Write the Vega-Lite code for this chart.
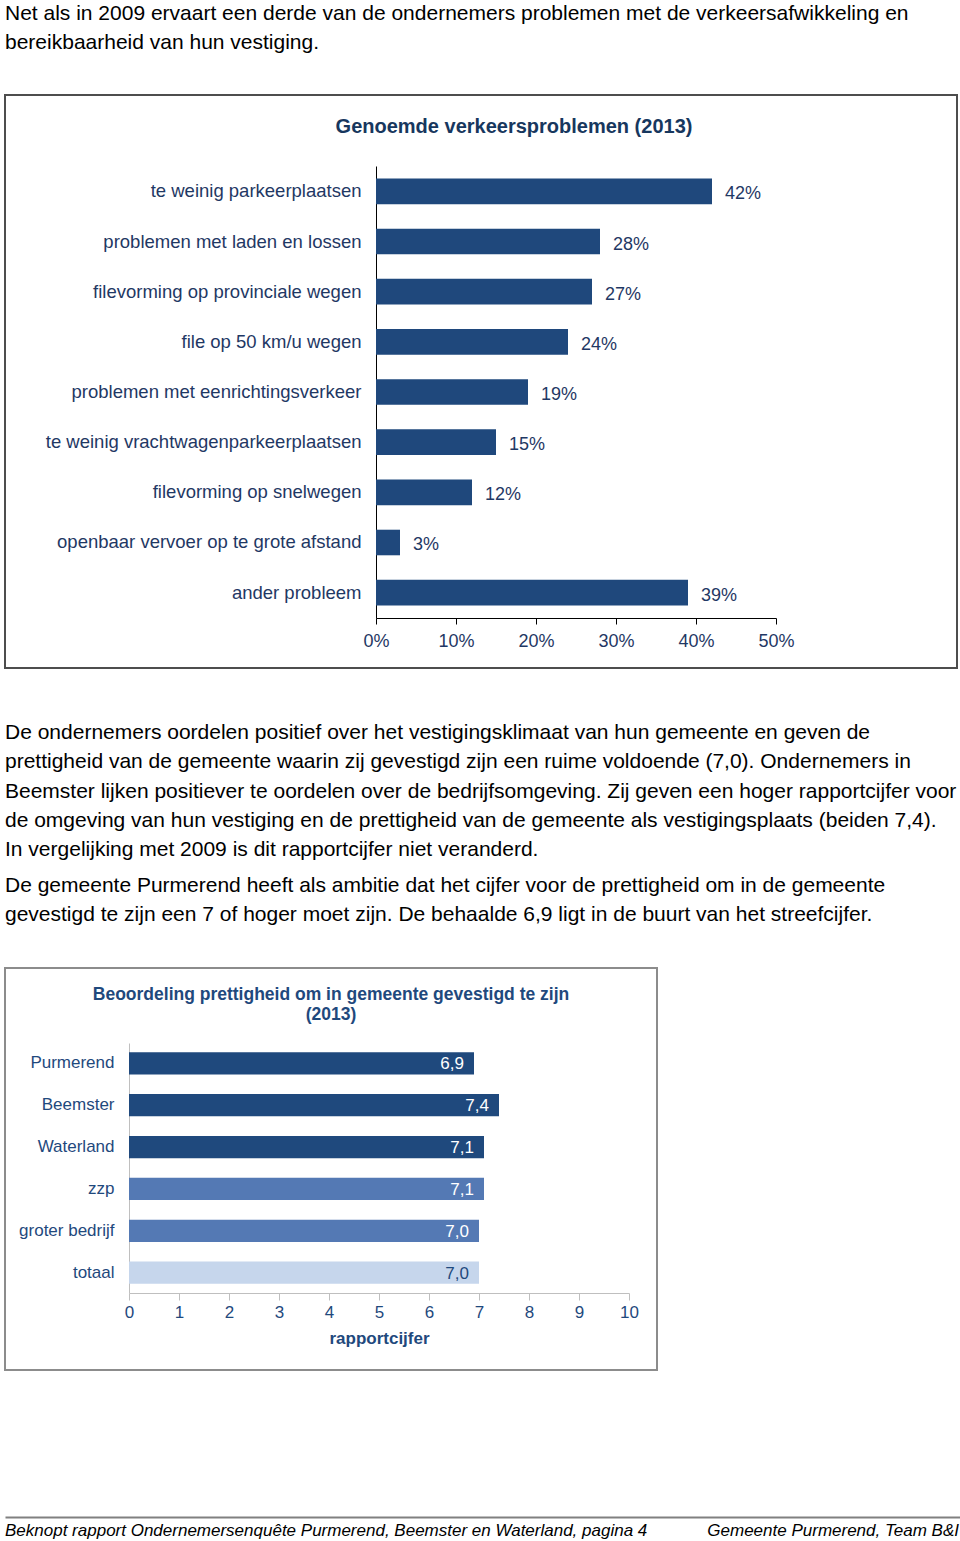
{
  "$schema": "https://vega.github.io/schema/vega-lite/v6.json",
  "background": "white",
  "padding": {"left": 4, "right": 0, "top": 0, "bottom": 0},
  "spacing": 0,
  "config": {
    "font": "Liberation Sans",
    "view": {"stroke": null},
    "locale": {"number": {"decimal": ",", "thousands": ".", "grouping": [3], "currency": ["€", ""]}},
    "axis": {"grid": false, "labelFont": "Liberation Sans", "titleFont": "Liberation Sans", "labelFlush": false},
    "title": {"font": "Liberation Sans"}
  },
  "datasets": {
    "p1": [
      {"regel": 1, "tekst": "Net als in 2009 ervaart een derde van de ondernemers problemen met de verkeersafwikkeling en"},
      {"regel": 2, "tekst": "bereikbaarheid van hun vestiging."}
    ],
    "p2": [
      {"regel": 1, "tekst": "De ondernemers oordelen positief over het vestigingsklimaat van hun gemeente en geven de"},
      {"regel": 2, "tekst": "prettigheid van de gemeente waarin zij gevestigd zijn een ruime voldoende (7,0). Ondernemers in"},
      {"regel": 3, "tekst": "Beemster lijken positiever te oordelen over de bedrijfsomgeving. Zij geven een hoger rapportcijfer voor"},
      {"regel": 4, "tekst": "de omgeving van hun vestiging en de prettigheid van de gemeente als vestigingsplaats (beiden 7,4)."},
      {"regel": 5, "tekst": "In vergelijking met 2009 is dit rapportcijfer niet veranderd."}
    ],
    "p3": [
      {"regel": 1, "tekst": "De gemeente Purmerend heeft als ambitie dat het cijfer voor de prettigheid om in de gemeente"},
      {"regel": 2, "tekst": "gevestigd te zijn een 7 of hoger moet zijn. De behaalde 6,9 ligt in de buurt van het streefcijfer."}
    ],
    "problemen": [
      {"probleem": "te weinig parkeerplaatsen", "aandeel": 0.42},
      {"probleem": "problemen met laden en lossen", "aandeel": 0.28},
      {"probleem": "filevorming op provinciale wegen", "aandeel": 0.27},
      {"probleem": "file op 50 km/u wegen", "aandeel": 0.24},
      {"probleem": "problemen met eenrichtingsverkeer", "aandeel": 0.19},
      {"probleem": "te weinig vrachtwagenparkeerplaatsen", "aandeel": 0.15},
      {"probleem": "filevorming op snelwegen", "aandeel": 0.12},
      {"probleem": "openbaar vervoer op te grote afstand", "aandeel": 0.03},
      {"probleem": "ander probleem", "aandeel": 0.39}
    ],
    "cijfers": [
      {"groep": "Purmerend", "cijfer": 6.9, "soort": "gemeente"},
      {"groep": "Beemster", "cijfer": 7.4, "soort": "gemeente"},
      {"groep": "Waterland", "cijfer": 7.1, "soort": "gemeente"},
      {"groep": "zzp", "cijfer": 7.1, "soort": "bedrijfsgrootte"},
      {"groep": "groter bedrijf", "cijfer": 7.0, "soort": "bedrijfsgrootte"},
      {"groep": "totaal", "cijfer": 7.0, "soort": "totaal"}
    ],
    "voet_links": [{"regel": 1, "tekst": "Beknopt rapport Ondernemersenquête Purmerend, Beemster en Waterland,  pagina 4"}],
    "voet_rechts": [{"regel": 1, "tekst": "Gemeente Purmerend, Team B&I"}]
  },
  "vconcat": [
    {
      "width": 952,
      "height": 94,
      "data": {"name": "p1"},
      "mark": {"type": "text", "align": "left", "baseline": "alphabetic", "fontSize": 21, "color": "#000000"},
      "encoding": {
        "x": {"datum": 0, "type": "quantitative", "scale": {"domain": [0, 1]}, "axis": null},
        "y": {"field": "regel", "type": "ordinal", "scale": {"type": "point", "padding": 0, "range": [20, 49]}, "axis": null},
        "text": {"field": "tekst"}
      }
    },
    {
      "width": 952,
      "height": 573,
      "view": {"stroke": "#4D4D4D", "strokeWidth": 2},
      "title": {"text": "Genoemde verkeersproblemen (2013)", "fontSize": 20, "fontWeight": "bold", "color": "#17375E", "anchor": "middle", "dx": 33, "baseline": "top", "offset": -42},
      "data": {"name": "problemen"},
      "encoding": {
        "y": {
          "field": "probleem", "type": "nominal", "sort": null,
          "scale": {"range": [71, 523], "paddingInner": 0.49, "paddingOuter": 0.25},
          "axis": {"title": null, "offset": -371, "ticks": false, "labelPadding": 15, "domainColor": "#000000", "domainWidth": 1, "labelFontSize": 18.5, "labelColor": "#1F3864", "labelLimit": 400}
        },
        "x": {
          "field": "aandeel", "type": "quantitative",
          "scale": {"domain": [0, 0.5], "range": [371, 771], "nice": false},
          "axis": {"title": null, "offset": -50, "values": [0, 0.1, 0.2, 0.3, 0.4, 0.5], "format": ".0%", "domainColor": "#000000", "tickColor": "#000000", "tickSize": 6, "labelFontSize": 18, "labelColor": "#1F3864", "labelPadding": 8}
        }
      },
      "layer": [
        {"mark": {"type": "bar", "color": "#1F487C"}},
        {
          "mark": {"type": "text", "align": "left", "baseline": "middle", "dx": 13, "dy": 3, "fontSize": 18, "color": "#1F3864"},
          "encoding": {"text": {"field": "aandeel", "type": "quantitative", "format": ".0%"}}
        }
      ]
    },
    {
      "width": 952,
      "height": 200,
      "data": {"name": "p2"},
      "mark": {"type": "text", "align": "left", "baseline": "alphabetic", "fontSize": 21, "color": "#000000"},
      "encoding": {
        "x": {"datum": 0, "type": "quantitative", "scale": {"domain": [0, 1]}, "axis": null},
        "y": {"field": "regel", "type": "ordinal", "scale": {"type": "point", "padding": 0, "range": [70, 187]}, "axis": null},
        "text": {"field": "tekst"}
      }
    },
    {
      "width": 952,
      "height": 98,
      "data": {"name": "p3"},
      "mark": {"type": "text", "align": "left", "baseline": "alphabetic", "fontSize": 21, "color": "#000000"},
      "encoding": {
        "x": {"datum": 0, "type": "quantitative", "scale": {"domain": [0, 1]}, "axis": null},
        "y": {"field": "regel", "type": "ordinal", "scale": {"type": "point", "padding": 0, "range": [23, 52]}, "axis": null},
        "text": {"field": "tekst"}
      }
    },
    {
      "width": 652,
      "height": 402,
      "view": {"stroke": "#8C8C8C", "strokeWidth": 2},
      "title": {"text": ["Beoordeling prettigheid om in gemeente gevestigd te zijn", "(2013)"], "fontSize": 17.5, "fontWeight": "bold", "color": "#1F497D", "lineHeight": 20, "anchor": "middle", "baseline": "top", "offset": -55},
      "data": {"name": "cijfers"},
      "encoding": {
        "y": {
          "field": "groep", "type": "nominal", "sort": null,
          "scale": {"range": [75, 325], "paddingInner": 0.47, "paddingOuter": 0.22},
          "axis": {"title": null, "offset": -124, "ticks": false, "labelPadding": 15, "domainColor": "#BFBFBF", "labelFontSize": 17, "labelColor": "#1F497D"}
        },
        "x": {
          "field": "cijfer", "type": "quantitative",
          "scale": {"domain": [0, 10], "range": [124, 624], "nice": false},
          "axis": {"title": "rapportcijfer", "offset": -77, "values": [0, 1, 2, 3, 4, 5, 6, 7, 8, 9, 10], "format": "d", "tickSize": 7, "tickColor": "#BFBFBF", "domainColor": "#BFBFBF", "labelFontSize": 17, "labelColor": "#1F497D", "labelPadding": 4, "titleFontSize": 17, "titleColor": "#1F497D", "titleFontWeight": "bold", "titlePadding": 10}
        }
      },
      "layer": [
        {
          "mark": {"type": "bar"},
          "encoding": {
            "color": {"field": "soort", "type": "nominal", "scale": {"domain": ["gemeente", "bedrijfsgrootte", "totaal"], "range": ["#1F497D", "#5479B4", "#C6D6EC"]}, "legend": null}
          }
        },
        {
          "mark": {"type": "text", "align": "right", "baseline": "middle", "dx": -10, "dy": 1, "fontSize": 17},
          "encoding": {
            "text": {"field": "cijfer", "type": "quantitative", "format": ".1f"},
            "color": {"condition": {"test": "datum.soort === 'totaal'", "value": "#1F497D"}, "value": "#FFFFFF"}
          }
        }
      ]
    },
    {
      "width": 956,
      "height": 170,
      "layer": [
        {
          "data": {"name": "voet_links"},
          "mark": {"type": "text", "align": "left", "baseline": "alphabetic", "fontSize": 17, "fontStyle": "italic", "color": "#000000"},
          "encoding": {
            "x": {"datum": 0, "type": "quantitative", "scale": {"domain": [0, 1]}, "axis": {"orient": "top", "offset": -146, "labels": false, "ticks": false, "title": null, "domainColor": "#808080", "domainWidth": 2}},
            "y": {"field": "regel", "type": "ordinal", "scale": {"type": "point", "padding": 0, "range": [165, 165]}, "axis": null},
            "text": {"field": "tekst"}
          }
        },
        {
          "data": {"name": "voet_rechts"},
          "mark": {"type": "text", "align": "right", "baseline": "alphabetic", "fontSize": 17, "fontStyle": "italic", "color": "#000000", "dx": -2},
          "encoding": {
            "x": {"datum": 1, "type": "quantitative"},
            "y": {"field": "regel", "type": "ordinal"},
            "text": {"field": "tekst"}
          }
        }
      ]
    }
  ]
}
